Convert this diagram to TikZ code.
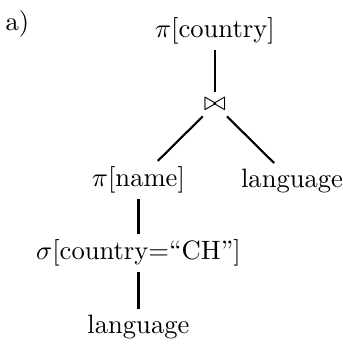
\documentclass[tikz,border=0pt]{standalone}
\usepackage{amsmath, amssymb}
\usepackage{tikz}

\begin{document}
\begin{tikzpicture}[every node/.style={inner sep=2pt}]
        \useasboundingbox (0,0) rectangle (4.53,4.56);
        \draw (0.23,4.25) node(lbl){a)};

        \draw (2.84,4.15) node(proj){$\pi$[country]};
        \draw (2.84,3.18) node(join){$\bowtie$};
        \draw (1.83,2.18) node(projname){$\pi$[name]};
        \draw (3.86,2.17) node(langr){language};
        \draw (1.83,1.22) node(sel){$\sigma$[country=``CH'']};
        \draw (1.83,0.24) node(langb){language};

        \draw[thick] (proj) to (join);
        \draw[thick] (join) to (projname);
        \draw[thick] (join) to (langr);
        \draw[thick] (projname) to (sel);
        \draw[thick] (sel) to (langb);
    \end{tikzpicture}
\end{document}
